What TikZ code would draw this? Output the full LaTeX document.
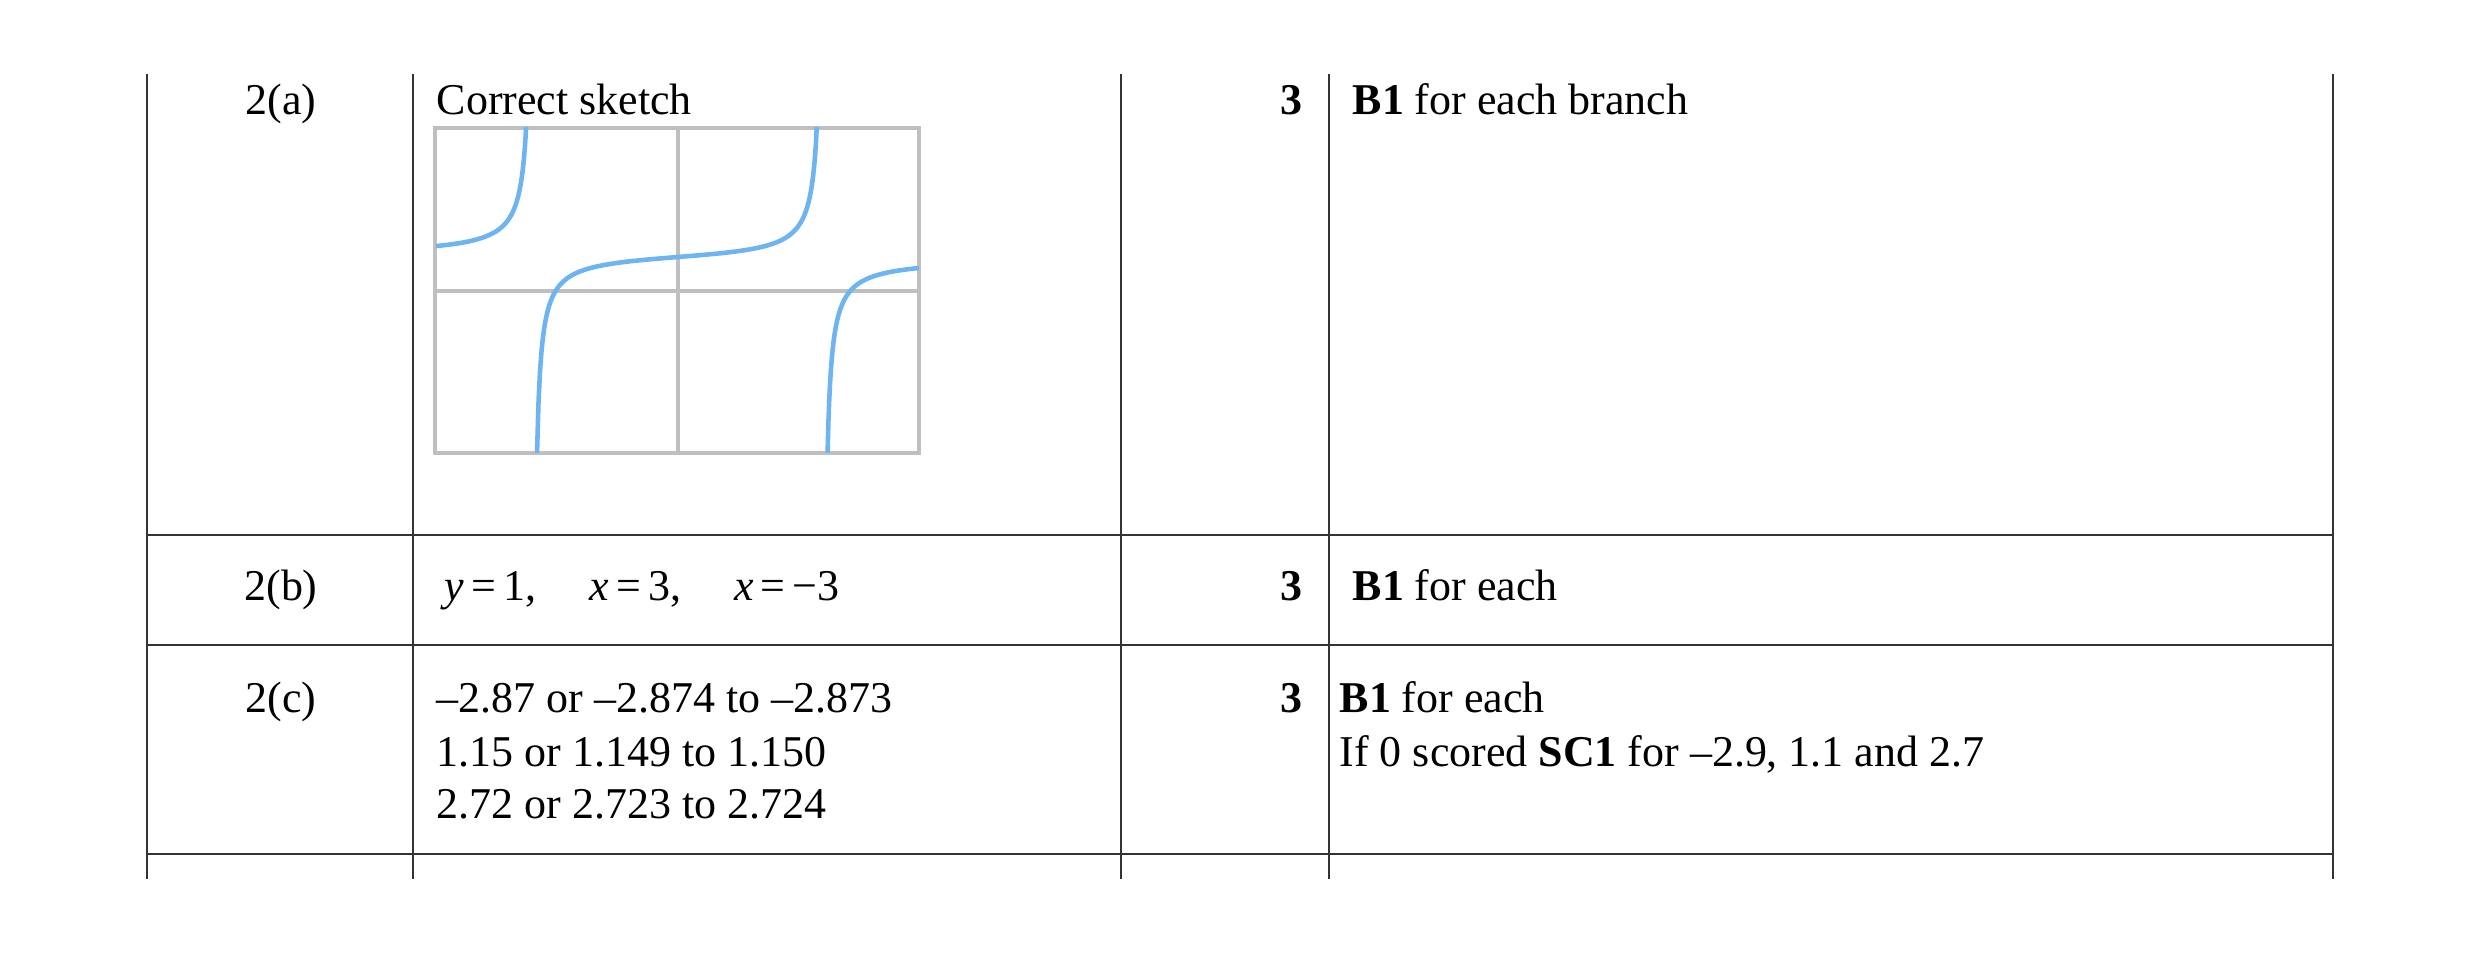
\documentclass[tikz,border=0pt]{standalone}
\usepackage{fontspec}
\setmainfont{Liberation Serif}
\tikzstyle{rule}=[line width=0.7pt, black!80]
\tikzstyle{grid_line}=[line width=1.4pt, black!25]
\tikzstyle{curve}=[line width=1.3pt, color={rgb,255:red,110;green,180;blue,240}]
\tikzstyle{cell}=[inner sep=0pt, anchor=base west, font=\fontsize{12.5pt}{15pt}\selectfont]
\tikzstyle{score}=[inner sep=0pt, anchor=base east, font=\fontsize{12.5pt}{15pt}\selectfont\bfseries]
\tikzstyle{qnum}=[inner sep=0pt, anchor=base, font=\fontsize{12.5pt}{15pt}\selectfont]

\begin{document}
\begin{tikzpicture}[x=0.01cm, y=-0.01cm]
    \useasboundingbox (0,0) rectangle (2480,955);

    % table rules
    \draw [rule] (147,74) -- (147,879);
    \draw [rule] (413,74) -- (413,879);
    \draw [rule] (1121,74) -- (1121,879);
    \draw [rule] (1329,74) -- (1329,879);
    \draw [rule] (2333,74) -- (2333,879);
    \draw [rule] (147,535) -- (2333,535);
    \draw [rule] (147,645) -- (2333,645);
    \draw [rule] (147,854) -- (2333,854);

    % row (a)
    \node (qa) at (281,115) [qnum] {2(a)};
    \node (ansa) at (436,115) [cell] {Correct sketch};
    \node (marka) at (1303,115) [score] {3};
    \node (guida) at (1352,115) [cell] {\textbf{B1} for each branch};

    % sketch
    \draw [grid_line] (435,128) rectangle (919,453);
    \draw [grid_line] (678,128) -- (678,453);
    \draw [grid_line] (435,291) -- (919,291);
    \begin{scope}
      \clip (435,128) rectangle (919,453);
      \draw [curve] plot [domain=-1:-0.612, samples=120] ({678+242*\x}, {257-7*\x/(0.36-\x*\x)});
      \draw [curve] plot [domain=-0.588:0.588, samples=200] ({678+242*\x}, {257-7*\x/(0.36-\x*\x)});
      \draw [curve] plot [domain=0.612:1, samples=120] ({678+242*\x}, {257-7*\x/(0.36-\x*\x)});
    \end{scope}

    % row (b)
    \node (qb) at (281,601) [qnum] {2(b)};
    \node (ansb) at (444,601) [cell] {\textit{y}\,=\,1,\hspace{1.2em}\textit{x}\,=\,3,\hspace{1.2em}\textit{x}\,=\,−3};
    \node (markb) at (1303,601) [score] {3};
    \node (guidb) at (1352,601) [cell] {\textbf{B1} for each};

    % row (c)
    \node (qc) at (281,713) [qnum] {2(c)};
    \node (ansc1) at (436,713) [cell] {–2.87 or –2.874 to –2.873};
    \node (ansc2) at (436,767) [cell] {1.15 or 1.149 to 1.150};
    \node (ansc3) at (436,819) [cell] {2.72 or 2.723 to 2.724};
    \node (markc) at (1303,713) [score] {3};
    \node (guidc1) at (1339,713) [cell] {\textbf{B1} for each};
    \node (guidc2) at (1339,767) [cell] {If 0 scored \textbf{SC1} for –2.9, 1.1 and 2.7};
\end{tikzpicture}
\end{document}
